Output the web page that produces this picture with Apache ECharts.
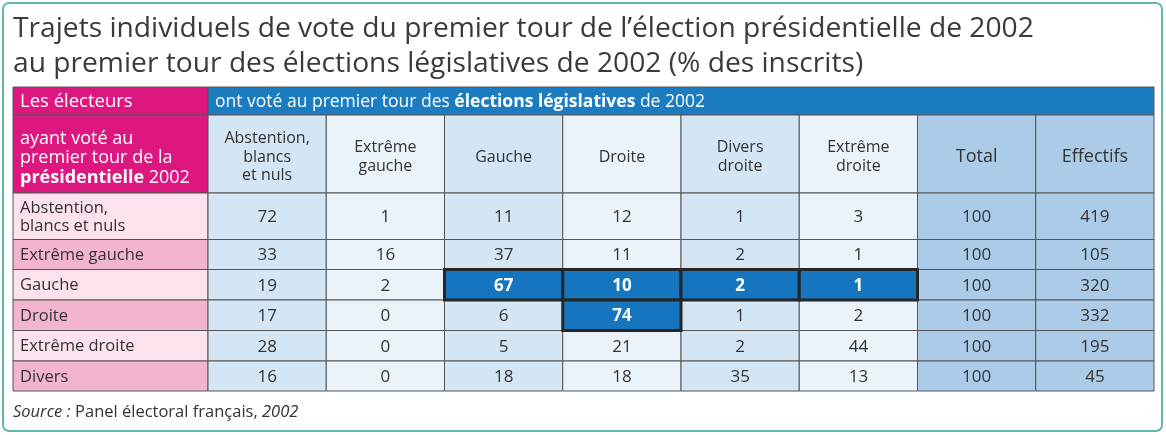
<!DOCTYPE html>
<html>
<head>
<meta charset="utf-8">
<script src="https://cdn.jsdelivr.net/npm/echarts@6/dist/echarts.min.js"></script>
<style>
html,body{margin:0;padding:0;background:#fff;}
#c{width:1166px;height:435px;}
</style>
</head>
<body>
<div id="c"></div>
<script>
// ---------- DATA ----------
const titleLines = [
  "Trajets individuels de vote du premier tour de l’élection présidentielle de 2002",
  "au premier tour des élections législatives de 2002 (% des inscrits)"
];
const cornerTop = "Les électeurs";
const cornerBottom = ["ayant voté au", "premier tour de la", "{b|présidentielle} 2002"];
const groupHeader = "ont voté au premier tour des {b|élections législatives} de 2002";
const colHeaders = ["Abstention,\nblancs\net nuls", "Extrême\ngauche", "Gauche", "Droite", "Divers\ndroite", "Extrême\ndroite", "Total", "Effectifs"];
const rowLabels = ["Abstention,\nblancs et nuls", "Extrême gauche", "Gauche", "Droite", "Extrême droite", "Divers"];
const abstention    = [72, 33, 19, 17, 28, 16];
const extremeGauche = [1, 16, 2, 0, 0, 0];
const gauche        = [11, 37, 67, 6, 5, 18];
const droite        = [12, 11, 10, 74, 21, 18];
const diversDroite  = [1, 2, 2, 1, 2, 35];
const extremeDroite = [3, 1, 1, 2, 44, 13];
const total         = [100, 100, 100, 100, 100, 100];
const effectifs     = [419, 105, 320, 332, 195, 45];
const highlighted   = [[2, 2], [2, 3], [2, 4], [2, 5], [3, 3]]; // [row, column]
const source = "{i|Source :} Panel électoral français, {i|2002}";

// ---------- LAYOUT (not data) ----------
const COL_W = [195, 118.25, 118.25, 118.25, 118.25, 118.25, 118.25, 118.25, 118.25];
const ROW_H = [28, 78, 46.5, 30, 30.5, 30.5, 30.5, 30];
const FONT = "'Open Sans', 'Noto Sans', sans-serif";
const C = {
  magenta: '#de1780', blue: '#1b7cc1', hi: '#1576bf',
  colA: '#d4e5f4', colB: '#eaf2fa', colT: '#abcbe8',
  pinkA: '#fbe2ee', pinkB: '#f2b4ce', line: '#555555', text: '#333333'
};

const columns = [abstention, extremeGauche, gauche, droite, diversDroite, extremeDroite, total, effectifs];
const xEdge = [0]; COL_W.forEach(w => xEdge.push(xEdge[xEdge.length - 1] + w));
const yEdge = [0]; ROW_H.forEach(h => yEdge.push(yEdge[yEdge.length - 1] + h));
const W = xEdge[xEdge.length - 1], H = yEdge[yEdge.length - 1];

function colFill(c) { return c >= 6 ? C.colT : (c % 2 === 0 ? C.colA : C.colB); }
function isHi(r, c) { return highlighted.some(h => h[0] === r && h[1] === c); }

const cells = [];
const meta = [];
function addCell(c0, c1, r0, r1, m) {
  cells.push([xEdge[c0], yEdge[r0], xEdge[c1], yEdge[r1]]);
  meta.push(m);
}
addCell(0, 1, 0, 1, { fill: C.magenta, text: cornerTop, align: 'left', color: '#fff', size: 18.5 });
addCell(1, 9, 0, 1, { fill: C.blue, text: groupHeader, align: 'left', color: '#fff', size: 17.5 });
addCell(0, 1, 1, 2, { fill: C.magenta, text: cornerBottom.join('\n'), align: 'left', color: '#fff', size: 18, lh: 19.5, dy: 3 });
colHeaders.forEach((h, c) => {
  const big = c >= 6;
  addCell(c + 1, c + 2, 1, 2, { fill: colFill(c), text: h, align: 'center', color: C.text, size: big ? 18 : 16, lh: 18.5, dy: 2 });
});
rowLabels.forEach((lab, r) => {
  addCell(0, 1, r + 2, r + 3, { fill: r % 2 === 0 ? C.pinkA : C.pinkB, text: lab, align: 'left', color: C.text, size: 16.5, lh: 18 });
  columns.forEach((col, c) => {
    if (!isHi(r, c)) addCell(c + 1, c + 2, r + 2, r + 3, { fill: colFill(c), text: String(col[r]), align: 'center', color: C.text, size: 17 });
  });
});
highlighted.forEach(([r, c]) => {
  addCell(c + 1, c + 2, r + 2, r + 3, { fill: C.hi, text: String(columns[c][r]), align: 'center', color: '#fff', size: 17, bold: true, hi: true });
});

function renderItem(params, api) {
  const m = meta[params.dataIndex];
  const p0 = api.coord([api.value(0), api.value(1)]);
  const p1 = api.coord([api.value(2), api.value(3)]);
  const x = p0[0], y = p0[1], w = p1[0] - p0[0], h = p1[1] - p0[1];
  const lh = m.lh || m.size * 1.2;
  return {
    type: 'group',
    children: [{
      type: 'rect',
      shape: { x: x, y: y, width: w, height: h },
      style: { fill: m.fill, stroke: m.hi ? '#262626' : C.line, lineWidth: m.hi ? 3 : 1 },
      z2: m.hi ? 10 : 1
    }, {
      type: 'text',
      z2: m.hi ? 11 : 2,
      style: {
        x: m.align === 'left' ? x + 7 : x + w / 2,
        y: y + h / 2 + 1 + (m.dy || 0),
        text: m.text,
        align: m.align,
        verticalAlign: 'middle',
        fill: m.color,
        fontFamily: FONT,
        fontSize: m.size,
        fontWeight: m.bold ? 'bold' : 'normal',
        lineHeight: lh,
        rich: { b: { fontWeight: 'bold', fontFamily: FONT, fontSize: m.size, fill: m.color, lineHeight: lh } }
      }
    }]
  };
}

const chart = echarts.init(document.getElementById('c'), null, { renderer: 'canvas' });
chart.setOption({
  backgroundColor: '#ffffff',
  animation: false,
  title: [{
    left: 8, top: 6,
    text: titleLines.join('\n'),
    textStyle: { fontFamily: FONT, fontSize: 28.2, fontWeight: 'normal', color: '#3a3a3a', lineHeight: 35 }
  }, {
    left: 8, top: 399,
    text: source,
    textStyle: {
      fontFamily: FONT, fontSize: 16.5, fontWeight: 'normal', color: '#333',
      rich: { i: { fontStyle: 'italic', fontFamily: FONT, fontSize: 16.5, color: '#333' } }
    }
  }],
  graphic: [{
    type: 'rect', z: -1,
    shape: { x: 3, y: 3, width: 1159, height: 428, r: 6 },
    style: { fill: 'none', stroke: '#5fb9a6', lineWidth: 2 }
  }],
  grid: { left: 13, top: 87, width: W, height: H },
  xAxis: { type: 'value', min: 0, max: W, show: false },
  yAxis: { type: 'value', min: 0, max: H, inverse: true, show: false },
  series: [{
    type: 'custom',
    renderItem: renderItem,
    data: cells,
    clip: false,
    silent: true
  }]
});
</script>
</body>
</html>
